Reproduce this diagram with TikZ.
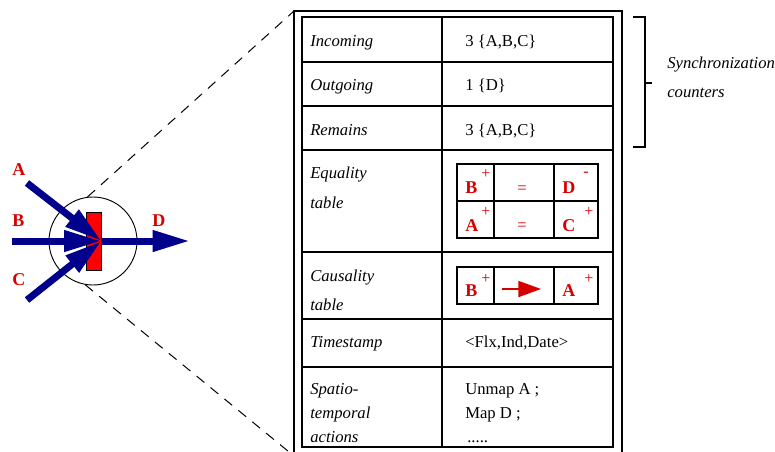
\documentclass[tikz,border=0pt]{standalone}
\usepackage{fontspec}
\setmainfont{Liberation Serif}
\usetikzlibrary{arrows.meta}
\definecolor{flowblue}{RGB}{0,0,140}
\definecolor{tokred}{RGB}{215,0,0}
\tikzset{
 flow/.style={flowblue, line width=5.25pt, -{Triangle[length=28pt,width=15pt]}},
 cell/.style={anchor=base west, inner sep=0pt, font=\fontsize{12.5}{15}\selectfont},
 celli/.style={cell, font=\fontsize{12.5}{15}\selectfont\itshape},
 tok/.style={tokred, anchor=base west, inner sep=0pt, font=\fontsize{13.5}{16}\selectfont\bfseries},
 sgn/.style={tokred, inner sep=0pt, font=\fontsize{12}{14}\selectfont},
}

\begin{document}
\begin{tikzpicture}[x=0.75pt, y=-0.75pt]
\clip (0,0) rectangle (775,451);

\node[draw, circle, minimum size=66pt, inner sep=0pt, line width=0.7pt] (hub) at (93,241) {};
\node[draw, fill=red, minimum width=11.25pt, minimum height=43.5pt, inner sep=0pt, line width=0.7pt] (gate) at (93.5,241) {};
\coordinate (srcA) at (27,183);
\coordinate (srcB) at (12,241);
\coordinate (srcC) at (27,300);
\coordinate (sink) at (190,241);
\draw[flow] (srcA) -- (gate.east);
\draw[flow] (srcC) -- (gate.east);
\draw[flow] (srcB) -- (gate.east);
\draw[flow] (gate.east) -- (sink);
\node[tok] (labA) at (12,175) {A};
\node[tok] (labB) at (12,226) {B};
\node[tok] (labC) at (12,285) {C};
\node[tok] (labD) at (152,226) {D};

\coordinate (fNW) at (294,11);
\coordinate (fSW) at (294,456);
\coordinate (fSE) at (622,456);
\draw[line width=2pt] (fNW) rectangle (fSE);
\draw[line width=0.75pt, dash pattern=on 7.5pt off 6pt] (hub.97) -- (fNW);
\draw[line width=0.75pt, dash pattern=on 7.5pt off 6pt] (hub.260) -- (fSW);

\draw[line width=0.9pt] (302,17) rectangle (613,447);
\draw[line width=0.9pt] (442,17) -- (442,447);
\foreach \y in {62,106,150,252,319,367} {
 \draw[line width=0.9pt] (302,\y) -- (613,\y);
}

\node[celli] (inc) at (310,46) {Incoming};
\node[celli] (out) at (310,90) {Outgoing};
\node[celli] (rem) at (310,135) {Remains};
\node[celli] (eq1) at (310,178) {Equality};
\node[celli] (eq2) at (310,208) {table};
\node[celli] (ca1) at (310,281) {Causality};
\node[celli] (ca2) at (310,310) {table};
\node[celli] (ts) at (310,347) {Timestamp};
\node[celli] (sp1) at (310,394) {Spatio-};
\node[celli] (sp2) at (310,418) {temporal};
\node[celli] (sp3) at (310,442) {actions};

\node[cell] (incv) at (465,46) {3 \{A,B,C\}};
\node[cell] (outv) at (465,90) {1 \{D\}};
\node[cell] (remv) at (465,135) {3 \{A,B,C\}};
\node[cell] (tsv) at (465,347) {<Flx,Ind,Date>};
\node[cell] (spv1) at (465,394) {Unmap A ;};
\node[cell] (spv2) at (465,418) {Map D ;};
\node[cell] (spv3) at (467,442) {.....};

\draw[line width=0.9pt] (457,164) rectangle (598,238);
\draw[line width=0.9pt] (457,201) -- (598,201);
\foreach \x in {494,554} {
 \draw[line width=0.9pt] (\x,164) -- (\x,238);
}
\node[tok] (eqB) at (465,193) {B};
\node[sgn] (eqBs) at (486,174) {+};
\node[sgn, font=\fontsize{12.5}{15}\selectfont] (eqI) at (522,190) {=};
\node[tok] (eqD) at (562,193) {D};
\node[sgn] (eqDs) at (586,174) {-};
\node[tok] (eqA) at (465,231) {A};
\node[sgn] (eqAs) at (486,212) {+};
\node[sgn, font=\fontsize{12.5}{15}\selectfont] (eqII) at (522,227) {=};
\node[tok] (eqC) at (562,231) {C};
\node[sgn] (eqCs) at (589,212) {+};

\draw[line width=0.9pt] (457,267) rectangle (598,304);
\foreach \x in {494,554} {
 \draw[line width=0.9pt] (\x,267) -- (\x,304);
}
\node[tok] (caB) at (465,296) {B};
\node[sgn] (caBs) at (486,279) {+};
\node[tok] (caA) at (562,296) {A};
\node[sgn] (caAs) at (589,279) {+};
\coordinate (cause) at (502,289);
\coordinate (effect) at (541,289);
\draw[tokred, line width=1.4pt, -{Triangle[length=17pt,width=12pt]}] (cause) -- (effect);

\draw[line width=0.8pt] (633,17) -- (645,17) -- (645,147) -- (633,147);
\draw[line width=0.8pt] (645,83) -- (652,83);
\node[celli] (sync) at (667,68) {Synchronization};
\node[celli] (cnt) at (667,97) {counters};
\end{tikzpicture}
\end{document}
